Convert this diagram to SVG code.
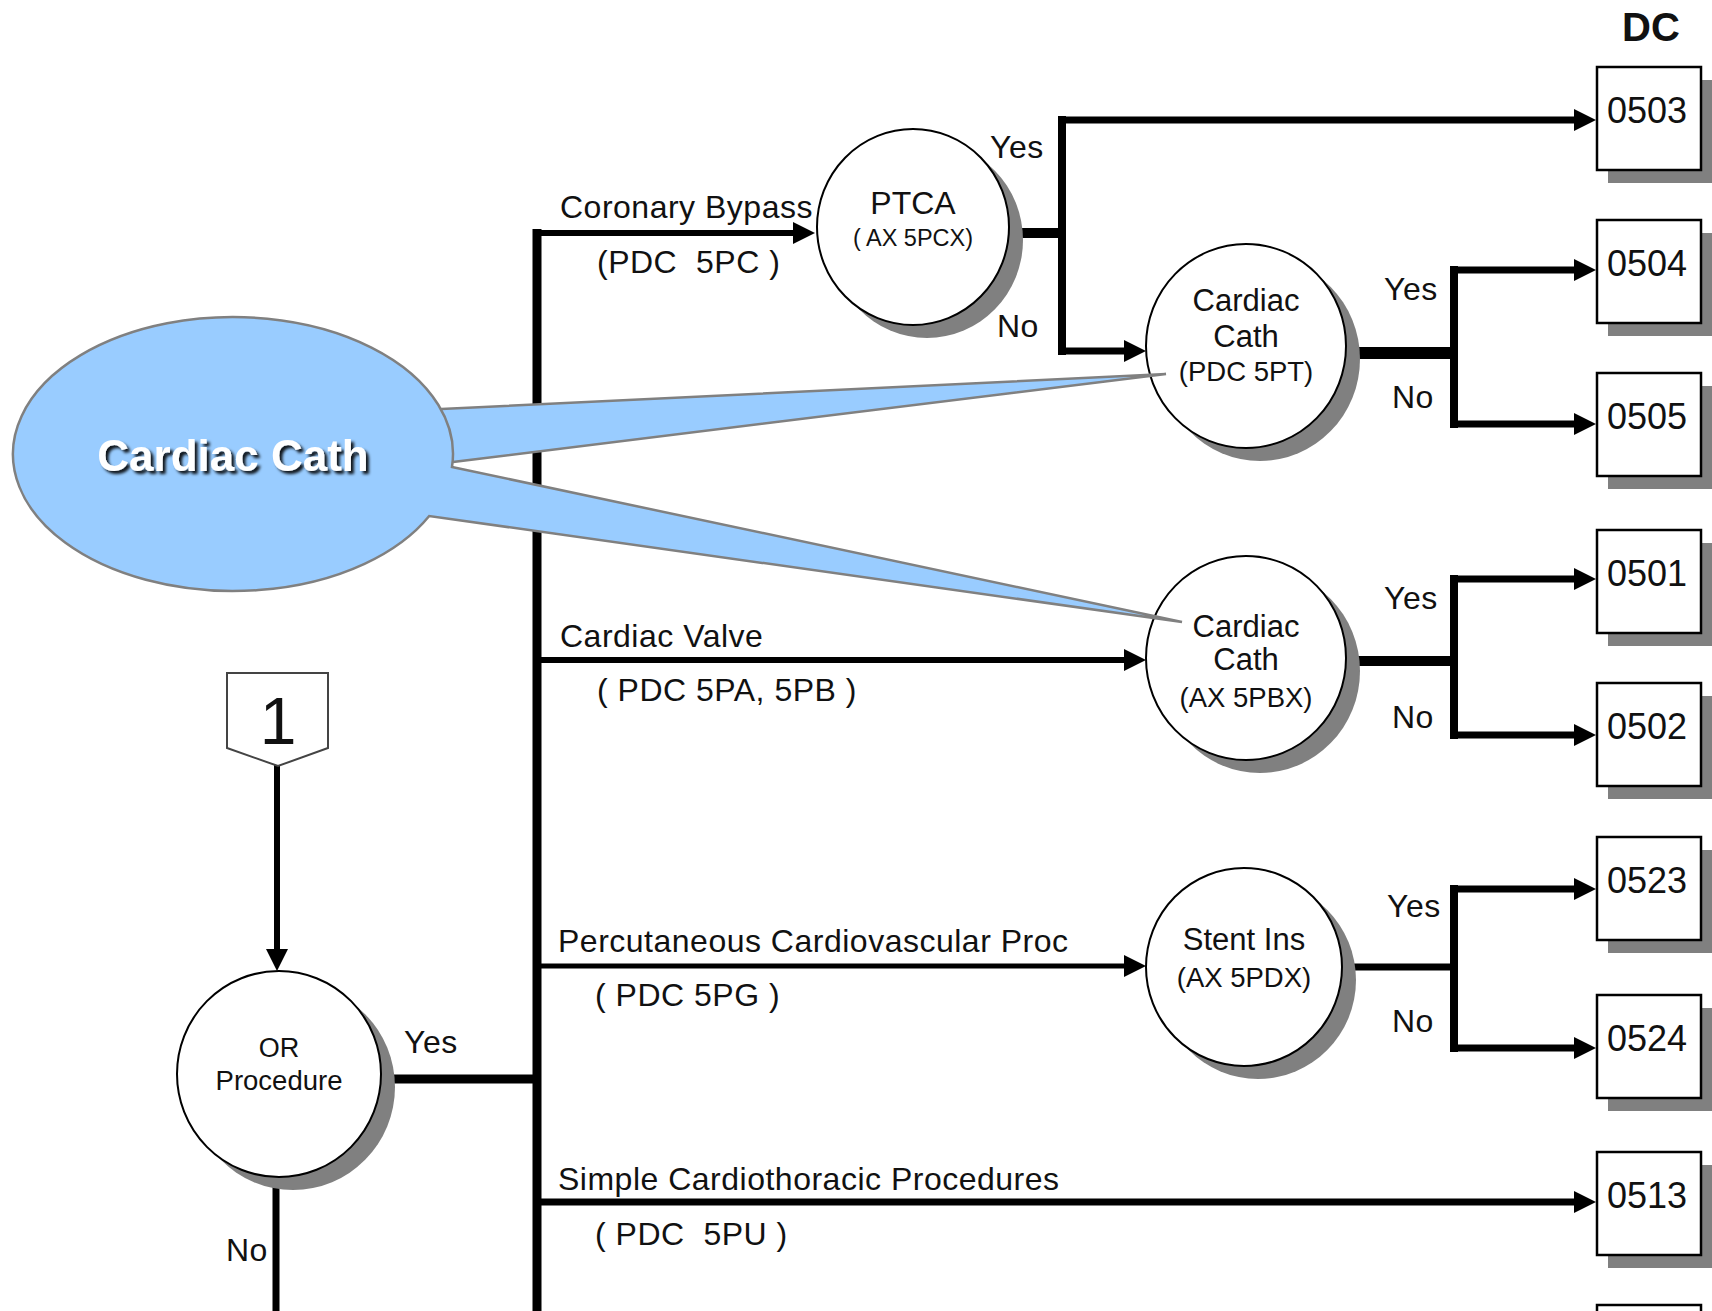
<svg xmlns="http://www.w3.org/2000/svg" width="1712" height="1311" viewBox="0 0 1712 1311">
<defs>
<style>
.t{font-family:"Liberation Sans",Arial,Helvetica,sans-serif;fill:#111}
.lbl{font-size:32px;letter-spacing:0.5px}
.ct{font-size:31px;text-anchor:middle}
.sub{font-size:27.5px;text-anchor:middle}
.bt{font-size:36px;text-anchor:middle}
.bx{fill:#fff;stroke:#000;stroke-width:2.5}
.sh{fill:#808080}
.c{fill:#fff;stroke:#000;stroke-width:2}
.ln{fill:none;stroke:#000;stroke-linejoin:miter;stroke-linecap:butt}
.call{fill:#99ccff;stroke:#808080;stroke-width:2.5;stroke-linejoin:miter}
</style>
<marker id="ah" viewBox="0 0 22 22" refX="4" refY="11" markerWidth="22" markerHeight="22" markerUnits="userSpaceOnUse" orient="auto">
<path d="M0,0 L22,11 L0,22 z" fill="#000"/>
</marker>
<filter id="ds" x="-10%" y="-30%" width="120%" height="160%">
<feDropShadow dx="3" dy="3" stdDeviation="1.5" flood-color="#000" flood-opacity="0.9"/>
</filter>
</defs>
<rect width="1712" height="1311" fill="#fff"/>

<text class="t" x="1651" y="41" font-size="40" font-weight="bold" text-anchor="middle">DC</text>

<g id="connectors">
<path class="ln" stroke-width="9" d="M537,229 V1311"/>
<path class="ln" stroke-width="6" d="M533,233 H797" marker-end="url(#ah)"/>
<path class="ln" stroke-width="10" d="M1005,233 H1062"/>
<path class="ln" stroke-width="8" d="M1062,116 V355"/>
<path class="ln" stroke-width="7" d="M1058,120 H1578" marker-end="url(#ah)"/>
<path class="ln" stroke-width="7" d="M1058,351 H1128" marker-end="url(#ah)"/>
<path class="ln" stroke-width="12" d="M1340,353 H1454"/>
<path class="ln" stroke-width="8" d="M1454,266 V428"/>
<path class="ln" stroke-width="7" d="M1450,270 H1578" marker-end="url(#ah)"/>
<path class="ln" stroke-width="7" d="M1450,424 H1578" marker-end="url(#ah)"/>
<path class="ln" stroke-width="6" d="M537,660 H1128" marker-end="url(#ah)"/>
<path class="ln" stroke-width="10" d="M1340,661 H1454"/>
<path class="ln" stroke-width="8" d="M1454,575 V739"/>
<path class="ln" stroke-width="7" d="M1450,579 H1578" marker-end="url(#ah)"/>
<path class="ln" stroke-width="7" d="M1450,735 H1578" marker-end="url(#ah)"/>
<path class="ln" stroke-width="5" d="M537,966 H1128" marker-end="url(#ah)"/>
<path class="ln" stroke-width="7" d="M1336,967 H1454"/>
<path class="ln" stroke-width="8" d="M1454,885 V1052"/>
<path class="ln" stroke-width="7" d="M1450,889 H1578" marker-end="url(#ah)"/>
<path class="ln" stroke-width="7" d="M1450,1048 H1578" marker-end="url(#ah)"/>
<path class="ln" stroke-width="7" d="M537,1202 H1578" marker-end="url(#ah)"/>
<path class="ln" stroke-width="9" d="M376,1079 H537"/>
<path class="ln" stroke-width="7" d="M276,1170 V1311"/>
<path class="ln" stroke-width="6" d="M277,764 V953" marker-end="url(#ah)"/>
</g>

<g id="edge-labels" class="t lbl">
<text x="560" y="218">Coronary Bypass</text>
<text x="597" y="273" xml:space="preserve">(PDC  5PC )</text>
<text x="560" y="647">Cardiac Valve</text>
<text x="597" y="701">( PDC 5PA, 5PB )</text>
<text x="558" y="952">Percutaneous Cardiovascular Proc</text>
<text x="595" y="1006">( PDC 5PG )</text>
<text x="558" y="1190">Simple Cardiothoracic Procedures</text>
<text x="595" y="1245" xml:space="preserve">( PDC  5PU )</text>
<text x="990" y="158">Yes</text>
<text x="997" y="337">No</text>
<text x="1384" y="300">Yes</text>
<text x="1392" y="408">No</text>
<text x="1384" y="609">Yes</text>
<text x="1392" y="728">No</text>
<text x="1387" y="917">Yes</text>
<text x="1392" y="1032">No</text>
<text x="404" y="1053">Yes</text>
<text x="226" y="1261">No</text>
</g>

<g id="node-1">
<polygon points="227,673 328,673 328,748 278,766 227,748" fill="#fff" stroke="#444" stroke-width="2"/>
<text class="t" x="278" y="744" font-size="66" text-anchor="middle">1</text>
</g>

<g id="node-or">
<ellipse class="sh" cx="293" cy="1087" rx="102" ry="103"/>
<ellipse class="c" cx="279" cy="1074" rx="102" ry="103"/>
<text class="t" x="279" y="1057" font-size="27" text-anchor="middle">OR</text>
<text class="t" x="279" y="1090" font-size="27.5" text-anchor="middle">Procedure</text>
</g>

<g id="node-ptca">
<ellipse class="sh" cx="927" cy="240" rx="96" ry="98"/>
<ellipse class="c" cx="913" cy="227" rx="96" ry="98"/>
<text class="t" x="913" y="214" font-size="32" text-anchor="middle">PTCA</text>
<text class="t" x="913" y="246" font-size="23.5" text-anchor="middle">( AX 5PCX)</text>
</g>

<g id="node-cath-5pt">
<ellipse class="sh" cx="1260" cy="359" rx="100" ry="102"/>
<ellipse class="c" cx="1246" cy="346" rx="100" ry="102"/>
<text class="t ct" x="1246" y="311">Cardiac</text>
<text class="t ct" x="1246" y="347">Cath</text>
<text class="t sub" x="1246" y="381">(PDC 5PT)</text>
</g>

<g id="node-cath-5pbx">
<ellipse class="sh" cx="1260" cy="671" rx="100" ry="102"/>
<ellipse class="c" cx="1246" cy="658" rx="100" ry="102"/>
<text class="t ct" x="1246" y="637">Cardiac</text>
<text class="t ct" x="1246" y="670">Cath</text>
<text class="t sub" x="1246" y="707" font-size="28">(AX 5PBX)</text>
</g>

<g id="node-stent">
<ellipse class="sh" cx="1258" cy="980" rx="98" ry="99"/>
<ellipse class="c" cx="1244" cy="967" rx="98" ry="99"/>
<text class="t ct" x="1244" y="950">Stent Ins</text>
<text class="t sub" x="1244" y="987" font-size="26">(AX 5PDX)</text>
</g>

<g id="dc-0503"><rect class="sh" x="1608" y="80" width="104" height="103"/><rect class="bx" x="1597" y="67" width="104" height="103"/><text class="t bt" x="1647" y="123">0503</text></g>
<g id="dc-0504"><rect class="sh" x="1608" y="233" width="104" height="103"/><rect class="bx" x="1597" y="220" width="104" height="103"/><text class="t bt" x="1647" y="276">0504</text></g>
<g id="dc-0505"><rect class="sh" x="1608" y="386" width="104" height="103"/><rect class="bx" x="1597" y="373" width="104" height="103"/><text class="t bt" x="1647" y="429">0505</text></g>
<g id="dc-0501"><rect class="sh" x="1608" y="543" width="104" height="103"/><rect class="bx" x="1597" y="530" width="104" height="103"/><text class="t bt" x="1647" y="586">0501</text></g>
<g id="dc-0502"><rect class="sh" x="1608" y="696" width="104" height="103"/><rect class="bx" x="1597" y="683" width="104" height="103"/><text class="t bt" x="1647" y="739">0502</text></g>
<g id="dc-0523"><rect class="sh" x="1608" y="850" width="104" height="103"/><rect class="bx" x="1597" y="837" width="104" height="103"/><text class="t bt" x="1647" y="893">0523</text></g>
<g id="dc-0524"><rect class="sh" x="1608" y="1008" width="104" height="103"/><rect class="bx" x="1597" y="995" width="104" height="103"/><text class="t bt" x="1647" y="1051">0524</text></g>
<g id="dc-0513"><rect class="sh" x="1608" y="1165" width="104" height="103"/><rect class="bx" x="1597" y="1152" width="104" height="103"/><text class="t bt" x="1647" y="1208">0513</text></g>
<g id="dc-next"><rect class="sh" x="1608" y="1318" width="104" height="103"/><rect class="bx" x="1597" y="1305" width="104" height="103"/></g>

<g id="callout">
<polygon class="call" points="420,410 1166,374 420,466"/>
<path class="call" d="M452,467 L1182,622 L429.2,516 A220,137 0 1 1 452,467 Z"/>
<text x="233" y="471" font-family="'Liberation Sans',Arial,sans-serif" font-size="44" font-weight="bold" fill="#fff" text-anchor="middle" filter="url(#ds)">Cardiac Cath</text>
</g>
</svg>
